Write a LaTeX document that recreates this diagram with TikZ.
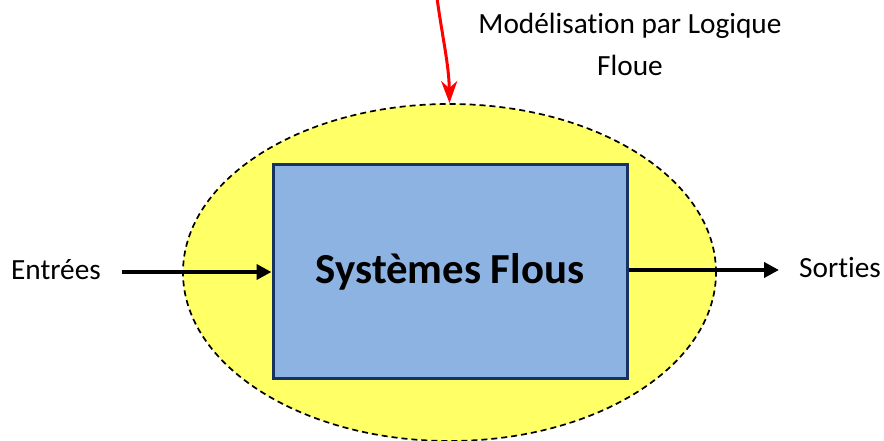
\documentclass[tikz,border=0pt]{standalone}
\usepackage{fontspec}
\setmainfont{Carlito}[RawFeature={-liga;-clig;-calt;-dlig}]
\usetikzlibrary{shapes.geometric,arrows.meta}
\definecolor{ellyellow}{HTML}{FFFF66}
\definecolor{boxblue}{HTML}{8DB3E2}
\definecolor{boxborder}{HTML}{17325F}
\definecolor{redarrow}{HTML}{FF0000}
\tikzset{
  lbl/.style={font=\fontsize{29.3}{35}\selectfont, inner sep=0pt, align=center},
  flow/.style={line width=4pt, -{Triangle[length=15pt,width=15pt]}},
}
\begin{document}
\begin{tikzpicture}[x=1pt,y=-1pt]
\useasboundingbox (0,0) rectangle (884,441);
\node[ellipse, draw, dashed, dash pattern=on 6pt off 4pt, line width=1.7pt, fill=ellyellow,
      minimum width=533pt, minimum height=337pt, inner sep=0pt] (ell) at (449.5,272.5) {};
\node[draw=boxborder, line width=3pt, fill=boxblue, minimum width=354pt, minimum height=213pt,
      inner sep=0pt, font=\fontsize{42.8}{50}\selectfont\bfseries] (sys) at (450,271.5) {Systèmes Flous};
\node[lbl, anchor=east] (in) at (101,270) {Entrées};
\node[lbl, anchor=west] (out) at (799,268) {Sorties};
\coordinate (inStart) at (122,272);
\coordinate (outEnd) at (779,270);
\draw[flow] (inStart) -- (sys.west |- inStart);
\draw[flow] (sys.east |- outEnd) -- (outEnd);
\node[lbl, anchor=north] (t1) at (630,13) {Modélisation par Logique};
\node[lbl, anchor=north] (t2) at (630,55) {Floue};
\coordinate (redStart) at (437,-2);
\draw[redarrow, line width=3pt, -{Stealth[length=22pt,width=16pt,inset=7pt]}]
  (redStart) .. controls (442,35) and (449,65) .. (ell.north);
\end{tikzpicture}
\end{document}
